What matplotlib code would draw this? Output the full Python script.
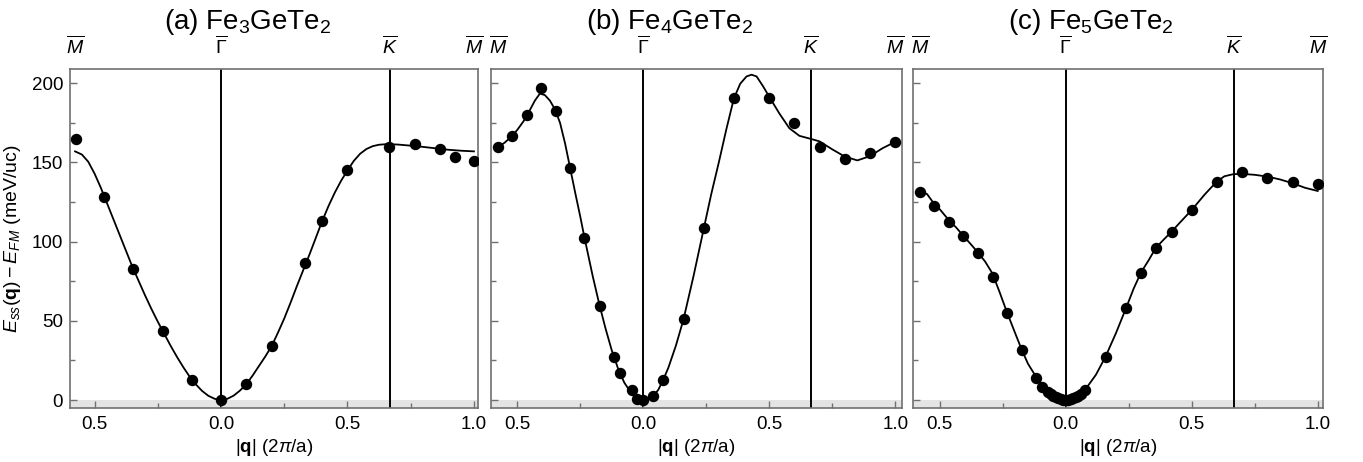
import numpy as np
import matplotlib.pyplot as plt
from matplotlib.ticker import MultipleLocator, FixedLocator, FuncFormatter

plt.rcParams['font.family'] = ['Liberation Sans', 'DejaVu Sans']
plt.rcParams['mathtext.fontset'] = 'custom'
plt.rcParams['mathtext.rm'] = 'Liberation Sans'
plt.rcParams['mathtext.it'] = 'Liberation Sans:italic'
plt.rcParams['mathtext.bf'] = 'Liberation Sans:bold'

# high-symmetry path M - Gamma - K - M  (|q| in 2pi/a, left branch negative)
sym_q = [-0.577, 0.0, 0.667, 1.0]
sym_labels = [r'$\overline{M}$', r'$\overline{\Gamma}$', r'$\overline{K}$', r'$\overline{M}$']

titles = [r'(a) Fe$_3$GeTe$_2$', r'(b) Fe$_4$GeTe$_2$', r'(c) Fe$_5$GeTe$_2$']

# (a) Fe3GeTe2 : DFT points and fit
a_q = [-0.574, -0.462, -0.347, -0.231, -0.116, 0.0, 0.099, 0.200, 0.332, 0.401,
       0.500, 0.666, 0.766, 0.867, 0.927, 0.999]
a_E = [164.6, 128.0, 82.5, 43.8, 12.6, 0.0, 9.9, 34.1, 86.7, 113.3,
       145.3, 160.0, 161.5, 158.5, 153.7, 151.2]
a_fit_q = [-0.577, -0.55, -0.525, -0.5, -0.475, -0.45, -0.425, -0.4, -0.375, -0.35,
           -0.325, -0.3, -0.275, -0.25, -0.225, -0.2, -0.175, -0.15, -0.125, -0.1,
           -0.075, -0.05, -0.025, 0.0, 0.025, 0.05, 0.075, 0.1, 0.125, 0.15,
           0.175, 0.2, 0.225, 0.25, 0.275, 0.3, 0.325, 0.35, 0.375, 0.4,
           0.425, 0.45, 0.475, 0.5, 0.525, 0.55, 0.575, 0.6, 0.625, 0.65,
           0.667, 0.7, 0.75, 0.8, 0.85, 0.9, 0.95, 1.0]
a_fit_E = [157.0, 155.0, 150.5, 143.0, 134.0, 124.0, 114.0, 104.0, 94.0, 84.0,
           75.0, 66.0, 57.5, 49.5, 42.0, 34.5, 27.5, 21.0, 15.0, 10.0,
           5.8, 2.7, 0.8, 0.0, 0.8, 2.8, 6.0, 10.0, 15.5, 21.5,
           27.5, 34.0, 42.5, 51.5, 61.5, 72.0, 82.0, 92.0, 102.5, 113.0,
           122.5, 131.0, 138.5, 145.0, 151.0, 155.5, 158.5, 160.3, 161.2, 161.5,
           161.5, 161.3, 160.6, 159.8, 158.9, 158.0, 157.4, 157.0]

# (b) Fe4GeTe2
b_q = [-0.578, -0.521, -0.463, -0.406, -0.347, -0.291, -0.233, -0.172, -0.116, -0.093,
       -0.046, -0.023, 0.0, 0.040, 0.079, 0.160, 0.241, 0.360, 0.501, 0.599,
       0.701, 0.801, 0.901, 1.0]
b_E = [160.0, 166.7, 180.0, 196.7, 182.3, 146.7, 102.2, 59.6, 27.4, 17.4,
       6.5, 0.7, 0.0, 2.6, 12.6, 51.1, 108.8, 190.5, 191.0, 175.2,
       159.5, 152.1, 155.8, 163.1]
b_fit_q = [-0.577, -0.55, -0.525, -0.5, -0.475, -0.45, -0.43, -0.41, -0.39, -0.37,
           -0.35, -0.33, -0.31, -0.29, -0.27, -0.25, -0.233, -0.2, -0.175, -0.15,
           -0.125, -0.1, -0.075, -0.05, -0.025, 0.0, 0.02, 0.04, 0.06, 0.08,
           0.1, 0.13, 0.16, 0.2, 0.24, 0.27, 0.3, 0.33, 0.36, 0.385,
           0.41, 0.43, 0.45, 0.476, 0.5, 0.54, 0.58, 0.62, 0.667, 0.7,
           0.75, 0.8, 0.85, 0.9, 0.95, 1.0]
b_fit_E = [159.5, 162.5, 166.0, 170.5, 176.0, 183.0, 189.0, 193.5, 192.5, 189.0,
           183.5, 175.0, 162.0, 146.5, 131.0, 116.0, 102.5, 78.0, 61.0, 45.5,
           31.5, 20.0, 11.0, 5.0, 1.3, 0.0, 0.6, 2.6, 6.5, 13.0,
           20.5, 34.5, 51.0, 78.5, 108.0, 130.0, 150.0, 171.0, 190.5, 199.7,
           204.3, 205.4, 204.3, 198.0, 191.5, 181.0, 171.6, 166.8, 164.8, 163.3,
           158.3, 153.7, 151.3, 154.0, 159.0, 163.0]

# (c) Fe5GeTe2
c_q = [-0.578, -0.522, -0.464, -0.406, -0.349, -0.290, -0.234, -0.175, -0.119, -0.093,
       -0.07, -0.06, -0.05, -0.04, -0.03, -0.02, -0.01, 0.0, 0.01, 0.02,
       0.03, 0.04, 0.05, 0.06, 0.077, 0.159, 0.239, 0.298, 0.358, 0.421,
       0.5, 0.599, 0.700, 0.800, 0.901, 1.0]
c_E = [131.6, 122.5, 112.6, 103.6, 93.0, 77.5, 54.7, 31.6, 13.7, 8.4,
       5.2, 3.9, 2.7, 1.7, 1.0, 0.4, 0.1, 0.0, 0.1, 0.4,
       1.0, 1.7, 2.7, 3.9, 6.3, 27.0, 57.9, 80.4, 95.8, 106.3,
       120.0, 137.9, 144.2, 140.4, 137.5, 136.6]
c_fit_q = [-0.577, -0.55, -0.525, -0.5, -0.466, -0.435, -0.409, -0.38, -0.35, -0.32,
           -0.291, -0.262, -0.234, -0.2, -0.175, -0.15, -0.118, -0.09, -0.063, -0.03,
           0.0, 0.038, 0.076, 0.12, 0.158, 0.2, 0.239, 0.27, 0.299, 0.33,
           0.358, 0.39, 0.42, 0.45, 0.5, 0.55, 0.599, 0.63, 0.665, 0.7,
           0.75, 0.8, 0.85, 0.9, 0.95, 1.0]
c_fit_E = [132.0, 130.0, 124.5, 120.5, 114.0, 109.0, 104.2, 99.0, 93.5, 87.5,
           80.0, 68.0, 55.8, 42.0, 32.0, 23.0, 14.8, 8.5, 4.2, 1.0,
           0.0, 1.7, 6.3, 16.0, 27.4, 42.5, 57.9, 70.5, 80.6, 88.5,
           96.2, 101.5, 106.3, 111.5, 120.0, 129.5, 137.9, 141.3, 142.6, 142.8,
           142.2, 141.1, 139.3, 136.9, 134.0, 132.0]

panels = [
    (titles[0], a_q, a_E, a_fit_q, a_fit_E, [70/1363, 54/462, 408/1363, 339/462], (-0.597, 1.016)),
    (titles[1], b_q, b_E, b_fit_q, b_fit_E, [491/1363, 54/462, 411/1363, 339/462], (-0.604, 1.027)),
    (titles[2], c_q, c_E, c_fit_q, c_fit_E, [913/1363, 54/462, 410/1363, 339/462], (-0.606, 1.021)),
]

frame = '#707070'
fig = plt.figure(figsize=(13.63, 4.62), dpi=100)

for i, (title, q, E, fq, fE, rect, xlim) in enumerate(panels):
    ax = fig.add_axes(rect)
    ax.axhspan(-5, 0, color='#e4e4e4', lw=0, zorder=0)
    for xv in sym_q[1:3]:
        ax.axvline(xv, color='k', lw=1.4, zorder=1)
    ax.plot(fq, fE, color='k', lw=1.3, zorder=2)
    ax.plot(q, E, 'o', color='k', ms=7.2, zorder=3)

    ax.set_xlim(*xlim)
    ax.set_ylim(-5, 209)

    ax.xaxis.set_major_locator(FixedLocator([-0.5, 0.0, 0.5, 1.0]))
    ax.xaxis.set_minor_locator(FixedLocator([-0.25, 0.25, 0.75]))
    ax.xaxis.set_major_formatter(FuncFormatter(lambda v, p: f'{abs(v):.1f}'))
    ax.yaxis.set_major_locator(MultipleLocator(50))
    ax.yaxis.set_minor_locator(MultipleLocator(25))
    ax.tick_params(which='both', direction='in', colors=frame, labelcolor='k',
                   labelsize=13.5, top=False, right=False)
    ax.tick_params(which='major', length=5, width=1.0)
    ax.tick_params(which='minor', length=3.5, width=1.0)
    ax.tick_params(axis='x', pad=6)
    ax.tick_params(axis='y', pad=5)
    if i > 0:
        ax.tick_params(axis='y', labelleft=False)
    for s in ax.spines.values():
        s.set_color(frame)
        s.set_linewidth(1.2)

    top = ax.secondary_xaxis('top')
    top.set_xticks(sym_q, sym_labels)
    top.tick_params(length=0, pad=8, labelsize=14)
    top.spines['top'].set_visible(False)

    ax.set_xlabel(r'$|\mathbf{q}|$ (2$\pi$/a)', fontsize=13.5, labelpad=3)
    if i == 0:
        ax.set_ylabel(r'$E_{ss}(\mathbf{q}) - E_{FM}$ (meV/uc)', fontsize=14, labelpad=6)
    ax.text(0.435, 1.139, title, transform=ax.transAxes, ha='center', va='center', fontsize=20)

fig.savefig('out.png', dpi=100)
